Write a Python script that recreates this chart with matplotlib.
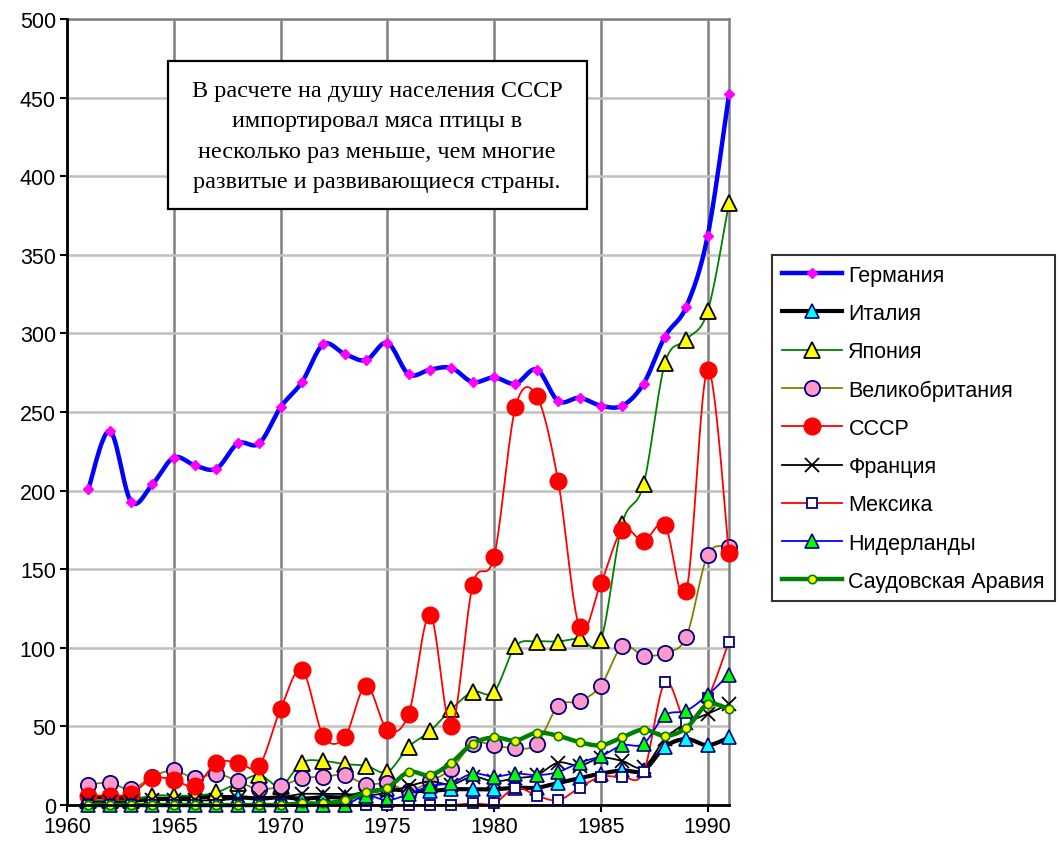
import numpy as np
import matplotlib
matplotlib.use("Agg")
import matplotlib.pyplot as plt
from matplotlib.patches import Rectangle

years = list(range(1961, 1992))

germany = [201, 238, 193, 204, 221, 216, 214, 230, 230, 253, 269, 293, 287, 283, 294, 274,
           277, 278, 269, 272, 268, 277, 257, 259, 254, 254, 268, 298, 317, 362, 452]
italy = [5, 5, 4, 4, 4, 5, 5, 5, 4, 5, 4, 5, 5, 8, 10, 9,
         9, 10, 10, 10, 11, 11, 14, 17, 20, 22, 22, 37, 42, 38, 43]
japan = [3, 3, 3, 6, 6, 6, 8, 14, 19, 12, 27, 28, 26, 25, 21, 37,
         47, 61, 72, 72, 101, 104, 104, 106, 105, 179, 204, 281, 296, 314, 383]
uk = [13, 14, 10, 18, 22, 17, 20, 15, 10, 12, 17, 18, 19, 13, 14, 9,
      15, 23, 39, 38, 36, 39, 63, 66, 76, 101, 95, 97, 107, 159, 164]
ussr = [6, 6, 7, 17, 16, 12, 27, 27, 25, 61, 86, 44, 43, 76, 48, 58,
        121, 50, 140, 158, 253, 260, 206, 113, 141, 175, 168, 178, 136, 277, 160]
france = [2, 2, 2, 3, 3, 3, 3, 4, 5, 5, 7, 7, 7, 6, 8, 12,
          15, 13, 18, 15, 17, 19, 27, 25, 30, 28, 24, 42, 52, 58, 64]
mexico = [0, 0, 0, 0, 0, 0, 0, 0, 0, 0, 0, 0, 0, 0, 0, 0,
          0, 0, 1, 1, 11, 6, 3, 11, 18, 18, 21, 78, 53, 68, 104]
netherlands = [0, 0, 0, 0, 0, 0, 0, 0, 0, 0, 0, 0, 0, 6, 3, 7,
               12, 14, 20, 18, 20, 19, 21, 27, 31, 38, 39, 57, 60, 70, 83]
saudi = [0, 0, 0, 0, 0, 0, 0, 0, 0, 0, 1, 1, 3, 8, 11, 21,
         19, 27, 39, 43, 41, 46, 44, 40, 38, 43, 48, 44, 49, 64, 61]

note = ("В расчете на душу населения СССР\n"
        "импортировал мяса птицы в\n"
        "несколько раз меньше, чем многие\n"
        "развитые и развивающиеся страны.")

N = 16  # samples per segment of the smoothed curve


def smooth(x, y, n=N):
    # Excel-like smoothed line (Catmull-Rom as cubic Bezier)
    p = np.column_stack([x, y]).astype(float)
    p_ext = np.vstack([p[0], p, p[-1]])
    t = np.linspace(0, 1, n, endpoint=False)[:, None]
    out = []
    for i in range(len(p) - 1):
        p0, p1, p2, p3 = p_ext[i], p_ext[i + 1], p_ext[i + 2], p_ext[i + 3]
        c1 = p1 + (p2 - p0) / 6
        c2 = p2 - (p3 - p1) / 6
        seg = ((1 - t) ** 3) * p1 + 3 * ((1 - t) ** 2) * t * c1 + 3 * (1 - t) * t ** 2 * c2 + t ** 3 * p2
        out.append(seg)
    out.append(p[-1:])
    c = np.vstack(out)
    return c[:, 0], c[:, 1]


plt.rcParams['font.family'] = ['Liberation Sans', 'DejaVu Sans']

fig = plt.figure(figsize=(10.58, 8.45), dpi=100)
ax = fig.add_axes([67 / 1058, 1 - 806 / 845, (729 - 67) / 1058, (806 - 20) / 845])

series = [
    ("Германия", germany, dict(color="#0000FF", lw=3.2, marker="D", ms=5, mfc="#FF00FF", mec="#FF00FF")),
    ("Италия", italy, dict(color="black", lw=3.0, marker="^", ms=10, mfc="#00FFFF", mec="#000080", mew=1.2)),
    ("Япония", japan, dict(color="#008000", lw=1.3, marker="^", ms=11, mfc="#FFFF00", mec="black", mew=1.3)),
    ("Великобритания", uk, dict(color="#808000", lw=1.3, marker="o", ms=11, mfc="#FF99CC", mec="#000080", mew=1.3)),
    ("СССР", ussr, dict(color="#FF0000", lw=1.3, marker="o", ms=12, mfc="#FF0000", mec="#FF0000")),
    ("Франция", france, dict(color="black", lw=1.3, marker="x", ms=10, mec="black", mew=1.3)),
    ("Мексика", mexico, dict(color="#FF0000", lw=1.3, marker="s", ms=7, mfc="white", mec="#000080", mew=1.3)),
    ("Нидерланды", netherlands, dict(color="#0000FF", lw=1.3, marker="^", ms=10, mfc="#00FF00", mec="#000080", mew=1.2)),
    ("Саудовская Аравия", saudi, dict(color="#008000", lw=3.2, marker="o", ms=6, mfc="#FFFF00", mec="#008000", mew=1.2)),
]

for i, (name, vals, st) in enumerate(series):
    sx, sy = smooth(years, vals)
    ax.plot(sx, sy, label=name, markevery=N, clip_on=False, zorder=3 + i, **st)

ax.set_xlim(1960, 1991)
ax.set_ylim(0, 500)
ax.set_xticks(range(1960, 1991, 5))
ax.set_yticks(range(0, 501, 50))
ax.tick_params(labelsize=15.5, direction="out", length=5, width=1.5, pad=3)

ax.xaxis.grid(True, color="#808080", lw=1.8)
ax.yaxis.grid(True, color="#C0C0C0", lw=1.8)
ax.set_axisbelow(True)
for s in ["left", "bottom"]:
    ax.spines[s].set_linewidth(2)
    ax.spines[s].set_zorder(20)
for s in ["top", "right"]:
    ax.spines[s].set_color("#808080")
    ax.spines[s].set_linewidth(1.8)

# note box
fig.add_artist(Rectangle((168 / 1058, 1 - 210 / 845), (587 - 168) / 1058, (210 - 62) / 845,
                         transform=fig.transFigure, fc="white", ec="black", lw=1.6, zorder=30))
fig.text(377 / 1058, 1 - 137 / 845, note, ha="center", va="center", fontsize=17.5,
         family="Liberation Serif", linespacing=1.6, zorder=31)

leg = fig.legend(loc="upper left", bbox_to_anchor=(772 / 1058, 1 - 256 / 845),
                 borderaxespad=0, fontsize=15.5, frameon=True, fancybox=False,
                 edgecolor="black", handlelength=2.8, labelspacing=0.8,
                 borderpad=0.45, handletextpad=0.3)
leg.get_frame().set_linewidth(1.5)

fig.savefig("out.png", dpi=100)
